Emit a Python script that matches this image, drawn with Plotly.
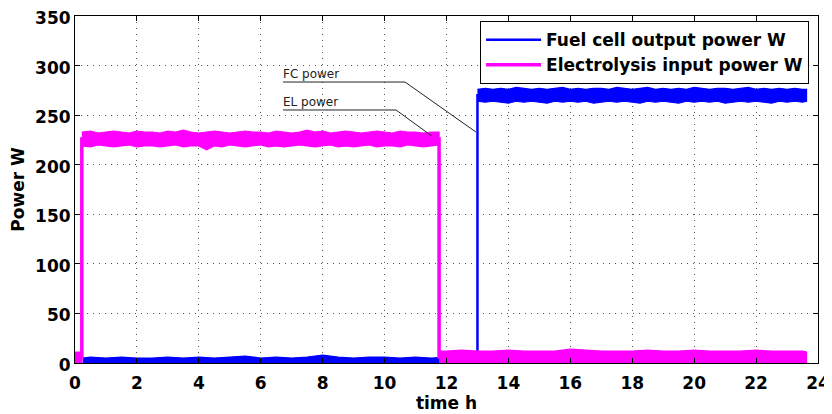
import plotly.graph_objects as go

# ---------------- data ----------------
# Fuel cell output power: low level segment (upper envelope, band down to zero)
fc_low_t = [0.25, 0.5, 1.0, 1.5, 2.0, 2.5, 3.0, 3.5, 4.0, 4.5, 5.0, 5.5, 6.0, 6.5,
            7.0, 7.5, 8.0, 8.5, 9.0, 9.5, 10.0, 10.5, 11.0, 11.5, 12.0, 12.5, 13.0]
fc_low_top = [5, 6, 5, 6, 5, 5, 6, 5, 6, 5, 6, 7, 5, 6, 5, 6, 8, 6, 5, 6, 6, 5, 6, 5, 6, 5, 6]

# Fuel cell output power: high level segment (upper/lower envelopes)
fc_high_t = [13.0, 13.25, 13.5, 13.75, 14.0, 14.25, 14.5, 14.75, 15.0, 15.25,
             15.5, 15.75, 16.0, 16.25, 16.5, 16.75, 17.0, 17.25, 17.5, 17.75,
             18.0, 18.25, 18.5, 18.75, 19.0, 19.25, 19.5, 19.75, 20.0, 20.25,
             20.5, 20.75, 21.0, 21.25, 21.5, 21.75, 22.0, 22.25, 22.5, 22.75,
             23.0, 23.25, 23.5, 23.63]
fc_high_top = [276, 277, 276, 277, 276, 278, 277, 276, 277, 276,
               277, 278, 276, 277, 276, 277, 277, 276, 278, 277,
               276, 277, 278, 276, 277, 276, 277, 276, 278, 277,
               276, 277, 277, 276, 277, 278, 276, 277, 276, 277,
               276, 277, 276, 276]
fc_high_bot = [264, 263, 264, 263, 262, 264, 263, 264, 263, 262,
               264, 263, 264, 263, 264, 262, 263, 264, 263, 264,
               263, 262, 264, 263, 264, 263, 262, 264, 263, 264,
               263, 264, 262, 263, 264, 263, 264, 263, 262, 264,
               263, 264, 263, 264]

# Fuel cell nominal step (vertical transition and legend entry)
fc_step_t = [0.25, 13.0, 13.0, 23.63]
fc_step_v = [3, 3, 270, 270]

# Electrolysis input power: initial short segment
el_start_t = [0.0, 0.22]
el_start_top = [11, 11]

# Electrolysis input power: high level segment
el_high_t = [0.22, 0.5, 0.75, 1.0, 1.25, 1.5, 1.75, 2.0, 2.25, 2.5,
             2.75, 3.0, 3.25, 3.5, 3.75, 4.0, 4.25, 4.5, 4.75, 5.0,
             5.25, 5.5, 5.75, 6.0, 6.25, 6.5, 6.75, 7.0, 7.25, 7.5,
             7.75, 8.0, 8.25, 8.5, 8.75, 9.0, 9.25, 9.5, 9.75, 10.0,
             10.25, 10.5, 10.75, 11.0, 11.25, 11.5, 11.76]
el_high_top = [233, 234, 232, 233, 234, 233, 232, 234, 233, 233,
               232, 234, 233, 235, 233, 232, 233, 234, 233, 232,
               233, 234, 233, 233, 232, 234, 233, 232, 233, 235,
               233, 234, 232, 233, 234, 233, 232, 233, 234, 233,
               232, 234, 233, 233, 232, 233, 233]
el_high_bot = [219, 218, 220, 219, 218, 219, 220, 218, 219, 219,
               218, 219, 220, 218, 219, 219, 215, 219, 218, 220,
               219, 218, 219, 220, 218, 219, 218, 219, 220, 219,
               218, 219, 220, 218, 219, 218, 219, 220, 218, 219,
               219, 218, 220, 219, 218, 219, 220]

# Electrolysis input power: low level segment
el_low_t = [11.76, 12.0, 12.5, 13.0, 13.5, 14.0, 14.5, 15.0, 15.5, 16.0, 16.5, 17.0, 17.5,
            18.0, 18.5, 19.0, 19.5, 20.0, 20.5, 21.0, 21.5, 22.0, 22.5, 23.0, 23.5, 23.63]
el_low_top = [12, 12, 13, 12, 12, 13, 12, 12, 12, 14, 13, 12, 12,
              12, 13, 12, 12, 13, 12, 12, 12, 13, 12, 12, 12, 11]

el_step_t = [0.0, 0.22, 0.22, 11.76, 11.76, 23.63]
el_step_v = [6, 6, 226, 226, 6, 6]

x_ticks = [0, 2, 4, 6, 8, 10, 12, 14, 16, 18, 20, 22, 24]
y_ticks = [0, 50, 100, 150, 200, 250, 300, 350]

FC_COLOR = "#0000FF"
EL_COLOR = "#FF00FF"

fig = go.Figure()


def band(t, top, bot, color):
    xs = list(t) + list(reversed(t))
    ys = list(top) + list(reversed(bot))
    return go.Scatter(x=xs, y=ys, mode="lines", fill="toself", fillcolor=color,
                      line=dict(color=color, width=1.2), showlegend=False,
                      hoverinfo="skip")


# Fuel cell traces (drawn first, under the electrolysis traces)
fig.add_trace(band(fc_low_t, fc_low_top, [0] * len(fc_low_t), FC_COLOR))
fig.add_trace(band(fc_high_t, fc_high_top, fc_high_bot, FC_COLOR))
fig.add_trace(go.Scatter(x=fc_step_t, y=fc_step_v, mode="lines",
                         line=dict(color=FC_COLOR, width=2.5),
                         name="Fuel cell output power W"))

# Electrolysis traces
fig.add_trace(band(el_start_t, el_start_top, [0, 0], EL_COLOR))
fig.add_trace(band(el_high_t, el_high_top, el_high_bot, EL_COLOR))
fig.add_trace(band(el_low_t, el_low_top, [0] * len(el_low_t), EL_COLOR))
fig.add_trace(go.Scatter(x=el_step_t, y=el_step_v, mode="lines",
                         line=dict(color=EL_COLOR, width=3.5),
                         name="Electrolysis input power W"))

# Callout labels
ann_font = dict(family="DejaVu Sans", size=12, color="#222")
fig.add_annotation(x=6.72, y=284, xref="x", yref="y", text="FC power",
                   showarrow=False, xanchor="left", yanchor="bottom",
                   font=ann_font, xshift=-2, yshift=-2)
fig.add_annotation(x=6.72, y=256, xref="x", yref="y", text="EL power",
                   showarrow=False, xanchor="left", yanchor="bottom",
                   font=ann_font, xshift=-2, yshift=-2)
fig.add_shape(type="path", xref="x", yref="y",
              path="M 6.72 283.4 L 10.66 283.4 L 12.95 233",
              line=dict(color="#222", width=1))
fig.add_shape(type="path", xref="x", yref="y",
              path="M 6.72 255.2 L 10.37 255.2 L 11.52 229",
              line=dict(color="#222", width=1))

FONT = "DejaVu Sans"
tick_font = dict(family=FONT, size=17, color="black", weight="bold")
title_font = dict(family=FONT, size=17, color="black", weight="bold")

# The page body adds an 8 px offset, so the figure is 8 px smaller on each axis
fig.update_layout(
    width=824, height=406,
    margin=dict(l=67, r=14, t=8, b=51, autoexpand=False),
    paper_bgcolor="white", plot_bgcolor="white",
    showlegend=True,
    legend=dict(x=0.988, y=0.985, xanchor="right", yanchor="top",
                bgcolor="white", bordercolor="black", borderwidth=1,
                font=dict(family=FONT, size=17, color="black", weight="bold"),
                tracegroupgap=0, itemwidth=55),
)

grid_dash = "1px,5px"
fig.update_xaxes(range=[0, 24], tickvals=x_ticks, ticktext=[str(v) for v in x_ticks],
                 showline=True, linecolor="black", linewidth=1, mirror="ticks",
                 ticks="inside", ticklen=5, tickcolor="black",
                 showgrid=True, gridcolor="#555555", griddash=grid_dash, gridwidth=1,
                 zeroline=False, tickfont=tick_font, automargin=False,
                 ticklabelstandoff=5, ticklabeloverflow="allow",
                 title=dict(text="time h", font=title_font, standoff=4))
fig.update_yaxes(range=[0, 350], tickvals=y_ticks, ticktext=[str(v) for v in y_ticks],
                 showline=True, linecolor="black", linewidth=1, mirror="ticks",
                 ticks="inside", ticklen=5, tickcolor="black",
                 showgrid=True, gridcolor="#555555", griddash=grid_dash, gridwidth=1,
                 zeroline=False, tickfont=tick_font, automargin=False,
                 ticklabeloverflow="allow", ticklabelshift=2,
                 title=dict(text="Power W", font=title_font, standoff=10))

fig.write_html("out.html")
